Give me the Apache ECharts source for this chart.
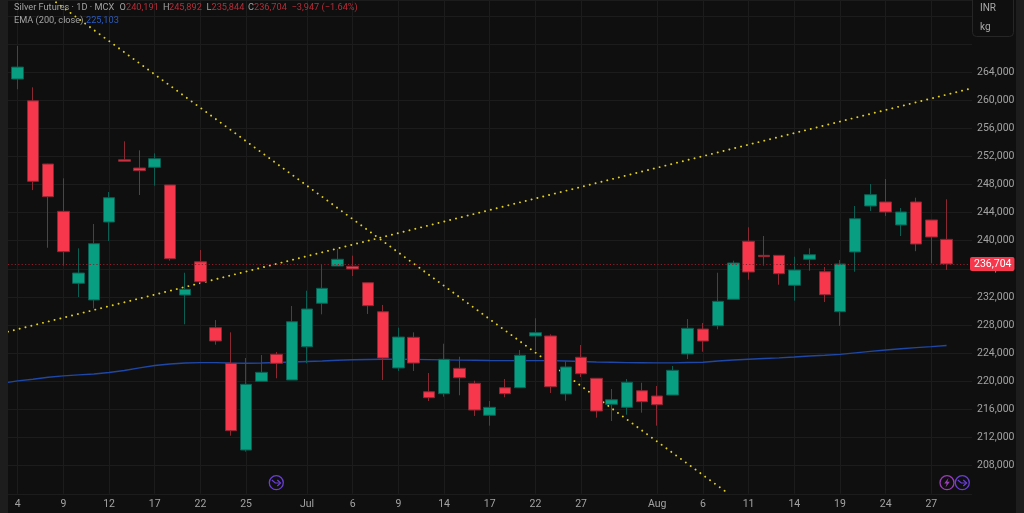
<!DOCTYPE html>
<html><head><meta charset="utf-8">
<style>html,body{margin:0;padding:0;background:#0f0f0f}#c{width:1024px;height:513px}</style>
<script src="https://cdn.jsdelivr.net/npm/echarts@6/dist/echarts.min.js"></script>
</head><body><div id="c"></div>
<script>
// Daily candles (bar index is the position in each list)
const opens  = [263000,259900,250910,244180,233940,231570,242660,251520,250340,250440,247930,232280,237000,227630,222560,210230,220000,223840,220190,224920,231100,236400,236360,234030,229900,221900,226260,218520,218240,221850,219720,215170,219090,219090,226450,226450,218200,223420,220430,216730,216300,218660,217910,218050,223890,227440,227910,231670,239920,237920,237920,233660,237360,235590,229900,238400,244940,245510,242240,245510,242950,240191];
const closes = [264700,248450,246260,238440,235410,239580,246120,251300,249960,251670,237440,233090,234170,225740,212980,219570,221280,222560,228480,230290,233230,237360,235980,230760,223320,226300,222600,217670,223130,220510,215920,216300,218240,223700,226920,219230,222040,221080,215780,217380,219860,217100,216670,221570,227540,225730,231380,236830,235550,237730,235310,235830,238010,232320,236690,243130,246550,244090,244090,239530,240530,236704];
const lows   = [261540,247200,239000,236450,231990,230380,239960,251240,246500,247830,237160,228110,233840,225210,212260,209990,220000,220430,220190,222560,229530,236400,234980,229580,220190,221470,221470,217200,217810,218010,215070,213690,217730,219090,224350,218340,217240,220610,214830,214350,215250,215540,213690,218050,223170,224210,227400,231670,234450,236450,233740,231470,235730,231280,227870,235590,244230,243520,240670,238510,236790,235844];
const highs  = [267700,261820,250950,248880,238920,242380,246930,254140,252860,252430,247930,235450,238680,228720,226970,223320,223740,224170,230710,232890,236550,238820,237870,234050,230860,227630,226970,221180,225350,223500,220090,217200,220330,224450,228970,226690,222850,225170,220430,218910,220330,219800,219330,222180,228860,228300,235450,237160,241910,240670,237920,237730,238920,236260,237260,244940,248070,248780,244650,246120,242950,245892];
// EMA (200, close), one reading per bar
const ema = [220070,220300,220570,220780,220910,221040,221250,221540,221920,222250,222460,222600,222660,222660,222600,222570,222600,222680,222750,222820,222890,222990,223060,223100,223130,223130,223120,223090,223050,223010,222990,222960,222950,222950,222950,222950,222890,222820,222750,222710,222660,222650,222630,222630,222680,222710,222890,223030,223130,223240,223340,223460,223600,223700,223840,224050,224260,224450,224640,224790,224930,225103];
const emaStart = [-0.637, 219850];
// Hand-drawn trend lines: [bar position, price]
const trendUp = [[-0.637,227060],[62.46,261580]];
const trendDown = [[2.515,273915],[46.44,204395]];
// Tick labels
const xTickPositions = [0,3,6,9,12,15,19,22,25,28,31,34,37,42,45,48,51,54,57,60];
const xTickLabels = ['4','9','12','17','22','25','Jul','6','9','14','17','22','27','Aug','6','11','14','19','24','27'];
const yTickLabels = [208000,212000,216000,220000,224000,228000,232000,236000,240000,244000,248000,252000,256000,260000,264000];
const lastPrice = 236704;
const headerTitle = 'Silver Futures · 1D · MCX';
const ohlcText = [['O',119.5,'240,191',126],['H',163,'245,892',169],['L',206.5,'235,844',211.5],['C',248,'236,704',254]];
const changeText = '−3,947 (−1.64%)';
const emaName = 'EMA (200, close)';
const emaText = '225,103';
const currency = 'INR', unit = 'kg';

const FONT = 'Roboto, sans-serif';
const GREY = '#a3a3a3', RED = '#f7374c', GREEN = '#089e82', RED_DIM = '#8a2833', GREEN_DIM = '#0a5f52', DOT = '#e2d020', DIMRED='#b82c38';
const fmt = v => v.toLocaleString('en-US');
const txt = (x,y,s,fill,size) => ({type:'text',z:100,x,y,style:{text:s,fill,font:(size||9.2)+'px '+FONT,textVerticalAlign:'middle'}});

const headerEls = [txt(14,7.5,headerTitle,GREY)];
ohlcText.forEach(r=>{headerEls.push(txt(r[1],7.5,r[0],GREY));headerEls.push(txt(r[3],7.5,r[2],DIMRED));});
headerEls.push(txt(291.5,7.5,changeText,DIMRED));
headerEls.push(txt(14,20.5,emaName,GREY));
headerEls.push(txt(86,20.5,emaText,'#2a5bc4'));

const circle = (cx,stroke)=>({type:'circle',z:100,shape:{cx,cy:482.7,r:7},style:{fill:'transparent',stroke,lineWidth:1.3}});
const arrow = (cx,stroke)=>({type:'polyline',z:100,shape:{points:[[cx-4.5,480],[cx-1,483],[cx+4,483]]},style:{fill:'none',stroke,lineWidth:1.2}});
const head = (cx,stroke)=>({type:'polyline',z:100,shape:{points:[[cx+1,480],[cx+4.3,483],[cx+1,486]]},style:{fill:'none',stroke,lineWidth:1.2}});
const bolt = (cx,stroke)=>({type:'polygon',z:100,shape:{points:[[cx+1.5,478],[cx-2.8,483.6],[cx-0.3,483.6],[cx-1.5,487.5],[cx+2.8,481.8],[cx+0.3,481.8]]},style:{fill:stroke}});

const chart = echarts.init(document.getElementById('c'),null,{renderer:'canvas'});
chart.setOption({
  animation:false,
  backgroundColor:'#0f0f0f',
  grid:{left:8,width:964,top:0,height:493.8,containLabel:false},
  xAxis:{type:'value',min:-0.637,max:62.67,
    axisLine:{show:false},
    axisTick:{show:false,customValues:xTickPositions},
    splitLine:{show:true,lineStyle:{color:'#1c1c1c',width:1}},
    axisLabel:{customValues:xTickPositions,color:GREY,fontFamily:FONT,fontSize:10.5,margin:5,hideOverlap:false,
      formatter:v=>xTickLabels[xTickPositions.indexOf(Math.round(v))]}},
  yAxis:{type:'value',position:'right',min:204000,max:274242,interval:4000,
    axisLine:{show:false},axisTick:{show:false},
    splitLine:{show:true,lineStyle:{color:'#1c1c1c',width:1}},
    axisLabel:{customValues:yTickLabels,color:GREY,fontFamily:FONT,fontSize:10.5,margin:5,formatter:v=>fmt(v)}},
  series:[
    {type:'line',name:'up',z:2,data:trendUp,symbol:'none',silent:true,
      lineStyle:{color:DOT,width:1.9,type:[0.1,5.9],cap:'round'}},
    {type:'line',name:'down',z:2,data:trendDown,symbol:'none',silent:true,
      lineStyle:{color:DOT,width:1.9,type:[0.1,5.9],cap:'round'}},
    {type:'line',name:'EMA',z:2,data:[emaStart].concat(ema.map((v,i)=>[i,v])),symbol:'none',silent:true,
      lineStyle:{color:'#1f47a6',width:1.4}},
    {type:'candlestick',z:3,barWidth:12,
      data:opens.map((o,i)=>[i,o,closes[i],lows[i],highs[i]]),
      itemStyle:{color:GREEN,color0:RED,borderColor:GREEN_DIM,borderColor0:RED_DIM,borderWidth:1},
      markLine:{silent:true,symbol:'none',animation:false,z:5,
        lineStyle:{color:'#8f1f2c',type:[1.2,2.2],width:1},
        label:{show:true,position:'end',distance:-2,formatter:()=>fmt(lastPrice),color:'#fff',backgroundColor:'#f7374c',
          fontFamily:FONT,fontSize:10.5,padding:[1.5,3,1.5,4],borderRadius:2},
        data:[{yAxis:lastPrice}]}}
  ],
  graphic:[
    {type:'rect',z:90,shape:{x:0,y:0,width:8,height:513},style:{fill:'#1d1d1d'}},
    {type:'rect',z:90,shape:{x:1016,y:0,width:8,height:513},style:{fill:'#1d1d1d'}},
    {type:'rect',z:95,shape:{x:972.5,y:-6,width:41,height:42.5,r:4},style:{fill:'#0f0f0f',stroke:'#262626',lineWidth:1}},
    txt(980,8.5,currency,'#a8a8a8',10),
    txt(980,27,unit,'#a8a8a8',10),
    ...headerEls,
    circle(276.3,'#6a3fd6'),arrow(276.3,'#6a3fd6'),head(276.3,'#6a3fd6'),
    circle(947,'#9b3db8'),bolt(947,'#9b3db8'),
    circle(962.3,'#6a3fd6'),arrow(962.3,'#6a3fd6'),head(962.3,'#6a3fd6')
  ]
});
</script></body></html>
